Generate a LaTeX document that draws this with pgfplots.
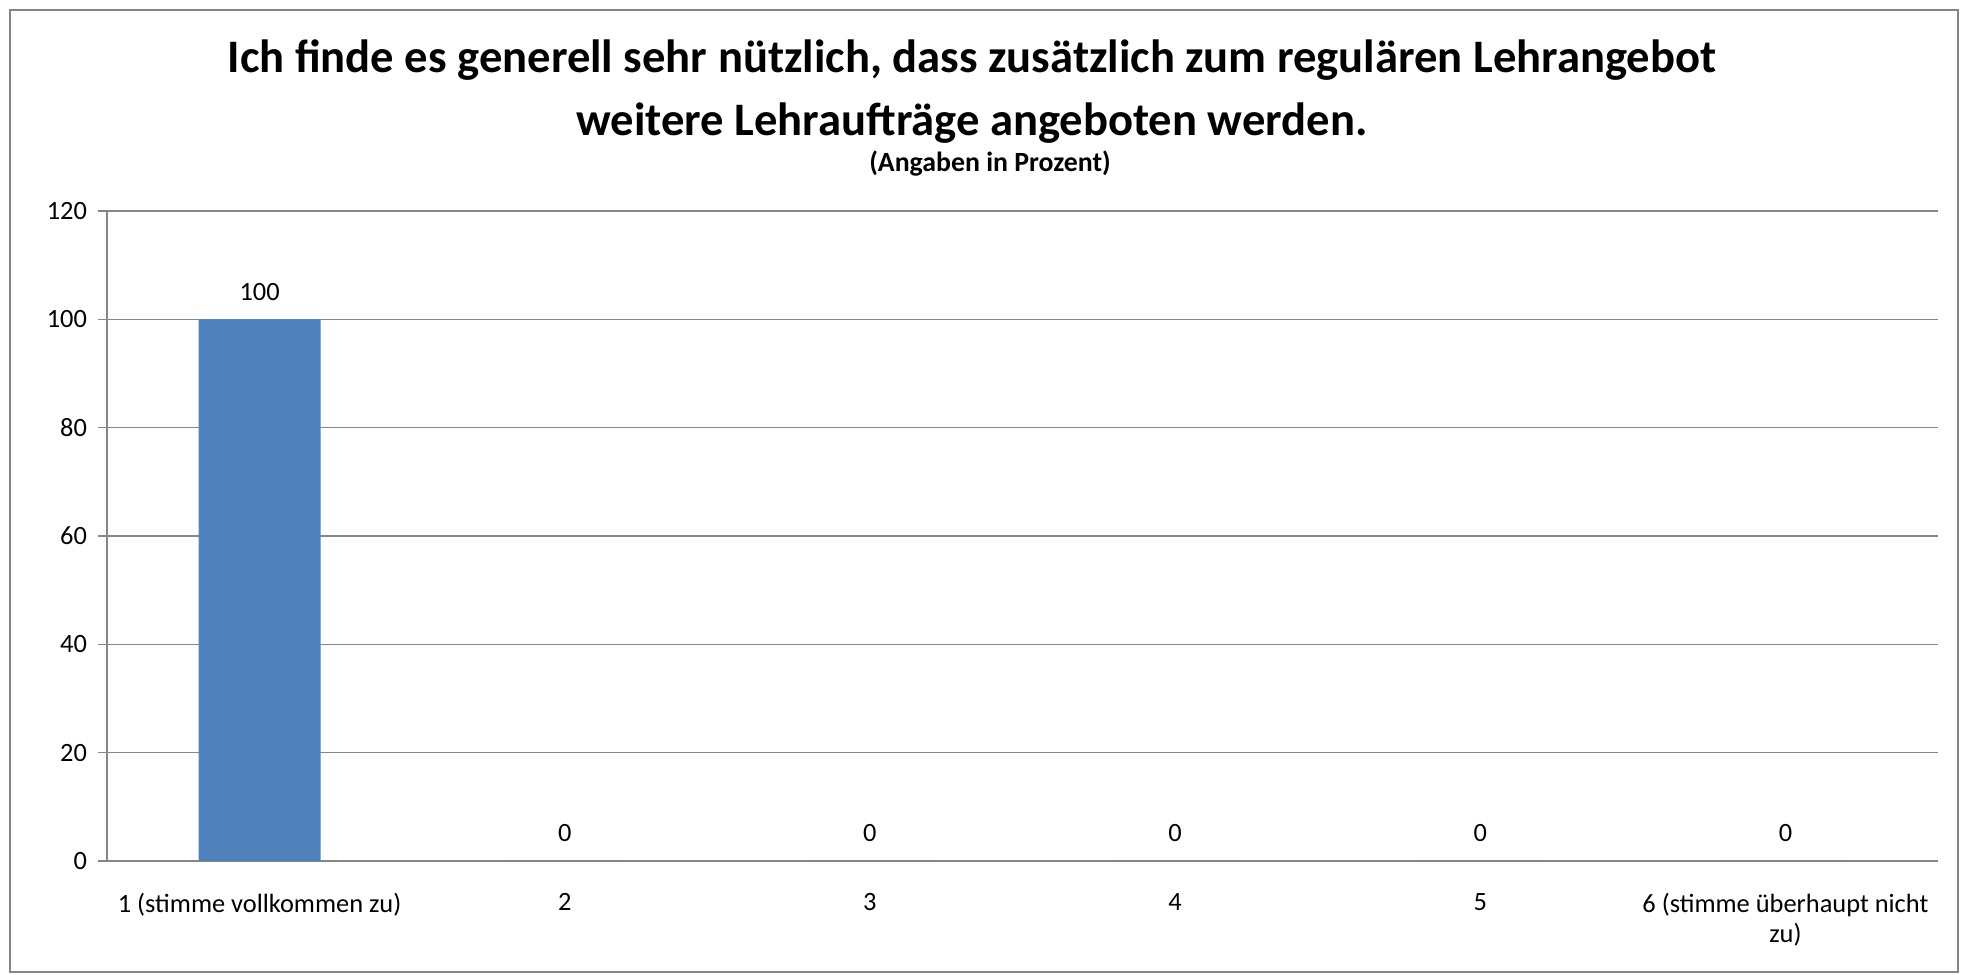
\documentclass[border=0pt]{standalone}
\usepackage{fontspec}
\setmainfont{Carlito}
\usepackage{pgfplots}
\pgfplotsset{compat=1.18}
\pgfplotsset{/pgf/number format/assume math mode=true}
\definecolor{barblue}{HTML}{4F81BD}
\definecolor{gridgray}{HTML}{868686}
\begin{document}
\begin{tikzpicture}
\useasboundingbox (0,0) rectangle (984pt,487pt);
\draw[gridgray, line width=0.8pt] (5pt,1pt) rectangle (979pt,482pt);
\node[font=\bfseries\fontsize{23.3}{31.4}\selectfont, anchor=center] at (486pt,457pt) {Ich finde es generell sehr nützlich, dass zusätzlich zum regulären Lehrangebot};
\node[font=\bfseries\fontsize{23.3}{31.4}\selectfont, anchor=center] at (486pt,425.5pt) {weitere Lehraufträge angeboten werden.};
\node[font=\bfseries\fontsize{13.9}{16}\selectfont, anchor=center] at (495pt,405pt) {(Angaben in Prozent)};
\begin{axis}[
  at={(53.5pt,56.5pt)}, anchor=south west, scale only axis,
  width=915.5pt, height=325pt,
  xmin=0.5, xmax=6.5, ymin=0, ymax=120,
  ytick={0,20,...,120},
  xtick={1,...,6},
  xticklabels={1 (stimme vollkommen zu),2,3,4,5,{6 (stimme überhaupt nicht\\zu)}},
  major x tick style={draw=none},
  extra x ticks={0.5,1.5,...,6.5},
  extra x tick labels={},
  extra x tick style={grid=none, major tick length=4pt, tick style={draw=gridgray, line width=0.8pt}},
  axis x line*=bottom, axis y line*=left,
  axis line style={gridgray, line width=0.8pt, -},
  ymajorgrids,
  grid style={gridgray, line width=0.8pt},
  tick style={gridgray, line width=0.8pt},
  tick align=outside,
  major tick length=4.5pt,
  yticklabel style={font=\fontsize{13.2}{15}\selectfont, text=black, xshift=-2pt},
  xticklabel style={font=\fontsize{13.2}{15}\selectfont, text=black, align=center, yshift=-8pt},
]
\addplot[ybar, fill=barblue, draw=none, bar width=61pt,
  nodes near coords,
  nodes near coords style={font=\fontsize{13.2}{15}\selectfont, text=black, yshift=6pt}]
  coordinates {(1,100) (2,0) (3,0) (4,0) (5,0) (6,0)};
\end{axis}
\end{tikzpicture}
\end{document}
